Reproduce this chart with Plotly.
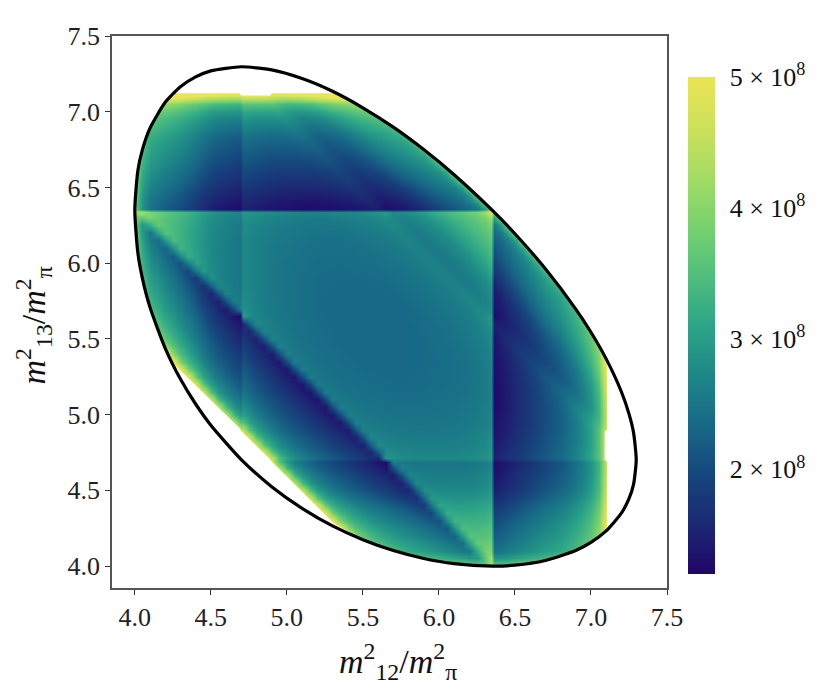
import plotly.graph_objects as go

# Grid nodes (m^2/m_pi^2), shared by both axes; paired nodes straddle the jumps at 4.7 and 6.35
nodes = [4.00,4.05,4.10,4.15,4.20,4.25,4.30,4.35,4.40,4.45,4.50,4.55,4.60,4.65,4.69,4.71,
         4.75,4.80,4.85,4.90,4.95,5.00,5.05,5.10,5.15,5.20,5.25,5.30,5.35,5.40,5.45,5.50,
         5.55,5.60,5.65,5.70,5.75,5.80,5.85,5.90,5.95,6.00,6.05,6.10,6.15,6.20,6.25,6.30,
         6.34,6.36,6.40,6.45,6.50,6.55,6.60,6.65,6.70,6.75,6.80,6.85,6.90,6.95,7.00,7.05,7.10,7.12]

# Values, in units of 1e6; the plot is symmetric about x = y.
# Each row gives x >= y only, starting at node index row_start[j].
row_start = [37,35,31,29,27,26,25,24,23,22,21,20,19,18,17,17,16] + list(range(17, 51))
row_vals = [
 [454,439,428,420,413,405,396,389,381,374,369, 420,373, 369,374,381,389,396,405,413,420,428,439,454,470,493,538,648,708],
 [395,378,364,352,344,337,329,320,312,304,295,289,359, 430,286, 289,295,304,312,320,329,337,344,352,364,378,395,418,463,573,633],
 [538,428,383,360,343,328,317,308,301,293,284,276,267,258,250,319,384, 391,246, 250,258,267,276,284,293,301,308,317,328,343,360,383,428,538,598],
 [588,528,418,373,350,333,318,306,298,290,282,273,265,256,246,238,305,369,369, 377,233, 238,246,256,265,273,282,290,298,306,318,333,350,373,418,528,588],
 [599,578,518,408,363,340,323,308,296,287,280,271,262,254,245,235,226,293,355,354,355, 364,221, 226,235,245,254,262,271,280,287,296,308,323,340,363,408,518,579],
 [591,571,510,400,355,332,315,300,288,279,271,263,253,245,236,226,217,283,345,342,342,345, 354,211, 217,226,236,245,253,263,271,279,288,300,315,332,355,400,510,571],
 [583,562,502,391,346,323,306,291,279,270,262,253,244,235,226,216,207,273,334,331,329,331,334, 344,201, 207,216,226,235,244,253,262,270,279,291,306,323,346,391,502,563],
 [573,552,491,381,335,312,295,280,268,259,251,242,232,224,214,204,195,261,322,318,316,316,318,322, 332,189, 195,204,214,224,232,242,251,259,268,280,295,312,335,381,491,553],
 [563,541,480,369,324,300,283,268,256,247,239,230,220,211,202,191,182,248,309,305,302,302,302,305,309, 319,176, 182,191,202,211,220,230,239,247,256,268,283,300,324,369,480,543],
 [552,530,468,357,311,288,270,255,243,234,226,217,207,198,188,178,168,234,295,291,288,287,287,288,291,295, 305,162, 168,178,188,198,207,217,226,234,243,255,270,288,311,357,468,532],
 [542,520,458,346,300,276,259,243,231,222,214,205,195,186,176,165,156,221,282,278,275,274,273,274,275,278,282, 292,149, 156,165,176,186,195,205,214,222,231,243,259,276,300,346,458,522],
 [537,515,453,341,294,270,252,237,224,215,207,198,188,179,169,158,148,214,274,270,267,266,265,265,266,267,270,274, 285,142, 148,158,169,179,188,198,207,215,224,237,252,270,294,341,453,517],
 [535,512,450,338,291,266,248,232,220,210,202,193,183,174,164,153,143,208,269,264,261,260,259,259,259,260,261,264,269, 279,136, 143,153,164,174,183,193,202,210,220,232,248,266,291,338,450,515],
 [534,510,447,335,288,263,244,228,215,206,197,188,178,169,159,148,138,203,263,259,255,254,253,253,253,253,254,255,259,263, 274,131, 138,148,159,169,178,188,197,206,215,228,244,263,288,335,447,508],
 [535,511,467,354,297,265,246,229,215,205,197,187,177,168,158,147,137,128,261,256,253,250,249,249,249,249,249,250,252,255,260, 271,128, 135,145,156,166,175,185,195,203,213,226,243,262,287,334,447,508],
 [555,526,452,349,307,283,265,249,236,226,218,208,198,189,179,168,158,296,284,279,277,275,274,274,274,274,274,275,277,280,285, 296,153, 160,170,181,191,200,210,220,228,238,251,268,287,312,359,472,533],
 [560,535,471,357,309,284,265,248,234,224,215,206,195,186,176,165,155,220,280,275,271,270,268,268,268,268,268,268,270,271,275,280, 291,148, 155,165,176,186,195,206,215,224,234,248,265,284,309,357,471,532],
 [470,356,307,281,262,245,231,220,211,201,191,181,171,160,150,215,275,270,266,264,263,262,262,262,262,262,263,264,266,270,275, 286,143, 150,160,171,181,191,201,211,220,231,245,262,281,307,356,470,532],
 [307,280,260,243,229,218,208,198,187,178,167,156,146,211,271,266,262,260,258,258,257,257,257,257,258,258,260,262,266,271, 282,139, 146,156,167,178,187,198,208,218,229,243,260,280,307,356,471,533],
 [259,241,227,216,206,195,184,174,164,152,142,207,267,262,258,256,254,253,253,252,252,252,253,253,254,256,258,262,267, 278,135, 142,152,164,174,184,195,206,216,227,241,259,280,307,357,459,509],
 [226,215,205,194,182,172,161,150,139,204,264,259,255,253,251,250,249,249,248,248,249,249,250,251,253,255,259,264, 275,132, 139,150,161,172,182,194,205,215,226,241,260,281,309,346,447,505],
 [205,194,182,171,160,148,138,202,262,257,253,251,249,248,247,246,246,245,246,246,247,248,249,251,253,257,262, 273,130, 138,148,160,171,182,194,205,215,227,243,262,284,299,335,450,512],
 [182,171,159,147,136,201,260,255,251,249,247,246,245,244,243,243,243,243,244,245,246,247,249,251,255,260, 271,128, 136,147,159,171,182,194,205,216,229,245,265,274,288,338,453,512],
 [159,146,135,199,259,253,249,247,245,244,243,242,241,240,241,240,241,242,243,244,245,247,249,253,259, 269,126, 135,146,159,171,182,194,206,218,231,248,255,263,291,341,458,523],
 [134,198,257,252,247,245,243,242,241,240,239,238,238,238,238,239,240,241,242,243,245,247,252,257, 268,125, 134,146,159,171,182,195,208,220,234,238,244,266,294,346,468,533],
 [257,251,247,244,242,241,240,239,238,237,237,236,237,237,238,239,240,241,242,244,247,251,257, 267,126, 135,147,160,172,184,198,211,224,225,228,248,270,300,357,480,545],
 [246,244,241,240,239,238,237,236,236,235,235,236,236,237,238,239,240,241,244,246,251,257, 268,127, 136,148,161,174,187,201,215,215,215,232,252,276,311,369,491,555],
 [242,240,239,238,237,236,236,235,235,235,236,236,237,238,239,240,242,244,247,252,259, 270,129, 138,150,164,178,191,206,207,206,220,237,259,288,324,381,502,559],
 [238,237,236,235,235,234,234,234,234,235,235,236,237,238,240,241,244,247,253,260, 271,130, 139,152,167,181,195,197,197,210,224,243,270,300,335,391,510,563],
 [236,235,235,234,234,234,234,234,235,235,236,237,239,240,242,245,249,255,262, 273,132, 142,156,171,186,187,188,202,215,231,255,283,312,346,400,518,581],
 [235,234,234,234,234,234,234,235,235,236,238,239,241,243,247,251,257,264, 275,134, 146,160,176,178,178,193,207,222,243,268,295,323,355,408,528],
 [234,234,234,234,234,234,235,235,237,238,240,242,245,249,253,259,267, 278,136, 150,165,168,169,183,198,214,234,256,280,306,332,363,418],
 [234,234,234,234,234,235,236,237,239,241,244,247,251,255,262,271, 282,143, 155,157,159,174,188,205,226,247,268,291,315,340,373,428],
 [234,234,234,234,236,236,238,240,243,246,249,253,258,266,275, 290,147, 147,148,164,179,195,217,239,259,279,300,323,350,383],
 [234,234,235,236,237,239,242,245,248,251,256,262,270,280, 296,128, 138,153,169,186,207,230,251,270,288,308,333,360,418],
 [235,235,237,238,241,244,247,250,254,260,266,275,272, 274,133, 143,158,176,198,220,242,262,279,296,318,343,395],
 [236,238,240,243,246,249,253,258,264,271,267,263, 279,137, 148,165,188,211,232,253,271,287,306,328,378],
 [241,243,246,249,253,258,263,270,264,259,269, 284,144, 156,178,202,224,244,263,280,298,317,364],
 [245,248,252,257,262,268,262,255,264,274, 291,151, 168,191,214,235,253,271,290,308,352,439],
 [252,257,262,268,261,254,261,270,282, 303,165, 182,204,226,245,262,282,301,344,428],
 [262,268,261,253,260,267,278,295, 317,178, 195,216,236,254,273,293,337,420],
 [261,253,259,266,275,291,309, 330,191, 207,226,245,265,284,329,413,421],
 [259,265,274,288,305,322, 342,203, 217,235,256,276,320,405,414],
 [273,287,302,318,334, 352,213, 226,246,267,312,396,406],
 [302,316,331,345, 362,223, 238,258,304,389,398],
 [329,342,355, 374,235, 250,295,381,391],
 [354,369, 388,249, 289,374,385],
 [384, 420,302, 369,379],
 [486,373,380],
 [230,240],
 [245],
]

# Kinematic boundary
bound_x = [4.0,4.02,4.05,4.1,4.2,4.3,4.4,4.5,4.7,4.9,5.1,5.3,5.5,5.7,5.9,6.1,6.35,6.5,6.7,6.9,7.0,7.1,7.2,7.25,7.28,7.2975,
           7.28,7.25,7.2,7.1,7.0,6.9,6.7,6.5,6.35,6.1,5.9,5.7,5.5,5.3,5.1,4.9,4.7,4.5,4.4,4.3,4.2,4.1,4.05,4.02,4.0]
bound_y = [6.35,6.611,6.75,6.892,7.062,7.165,7.23,7.27,7.297,7.276,7.219,7.135,7.026,6.898,6.75,6.584,6.35,6.194,5.963,5.697,5.544,5.368,5.151,5.005,4.881,4.70,
           4.539,4.445,4.349,4.232,4.156,4.103,4.037,4.006,4.0,4.016,4.05,4.102,4.174,4.265,4.381,4.524,4.703,4.93,5.07,5.235,5.438,5.708,5.9,6.069,6.35]

# Outline of the filled region
edge_x = [4.0,4.02,4.05,4.1,4.2,4.26,4.26,4.69,4.7,4.89,4.9,5.33,5.5,5.7,5.9,6.1,6.35,6.5,6.7,6.9,7.0,7.1,7.105,
          7.105,7.09,7.09,7.105,7.105,7.0,6.9,6.7,6.5,6.35,6.1,5.9,5.7,5.5,5.31,4.895,4.89,4.7,4.69,4.26,4.2,4.1,4.05,4.02,4.0]
edge_y = [6.35,6.611,6.75,6.892,7.062,7.105,7.122,7.122,7.107,7.107,7.122,7.122,7.026,6.898,6.75,6.584,6.35,6.194,5.963,5.697,5.544,5.368,5.36,
          4.9,4.89,4.7,4.69,4.235,4.156,4.103,4.037,4.006,4.0,4.016,4.05,4.102,4.174,4.28,4.695,4.705,4.89,4.91,5.33,5.438,5.708,5.9,6.069,6.35]

tick_vals = [4.0,4.5,5.0,5.5,6.0,6.5,7.0,7.5]
cbar_vals = [200,300,400,500]
cbar_text = ["2 × 10<sup>8</sup>","3 × 10<sup>8</sup>","4 × 10<sup>8</sup>","5 × 10<sup>8</sup>"]
color_stops = ["#21056a","#1c2873","#16467d","#176987","#1e8787","#2da587","#50be7d","#78d26e","#a5dc64","#cde15a","#ebe455"]

FONT = "Liberation Serif"
XMIN, YMIN, XMAX, YMAX = 3.85, 3.855, 7.5, 7.5

n = len(nodes)
z = [[None]*n for _ in range(n)]
for j, (start, vals) in enumerate(zip(row_start, row_vals)):
    for k, v in enumerate(vals):
        z[j][start+k] = v
        z[start+k][j] = v

fig = go.Figure()
fig.add_trace(go.Heatmap(
    x=nodes, y=nodes, z=z, zmin=120, zmax=500, zsmooth="best", hoverinfo="skip",
    colorscale=[[i/(len(color_stops)-1), c] for i, c in enumerate(color_stops)],
    colorbar=dict(thickness=27, thicknessmode="pixels", len=0.9004, lenmode="fraction",
                  y=0.0254, yanchor="bottom", x=1.038, xanchor="left", xpad=0, ypad=0,
                  outlinewidth=0, tickmode="array", tickvals=cbar_vals, ticktext=cbar_text,
                  ticks="outside", ticklen=10, tickcolor="rgba(0,0,0,0)",
                  tickfont=dict(family=FONT, size=26, color="#111")),
))
# White mask outside the filled outline
fig.add_trace(go.Scatter(
    x=[XMIN,XMIN,XMAX,XMAX,XMIN,None]+edge_x[::-1],
    y=[YMIN,YMAX,YMAX,YMIN,YMIN,None]+edge_y[::-1],
    mode="lines", line=dict(width=0), fill="toself", fillcolor="white",
    hoverinfo="skip", showlegend=False))
fig.add_trace(go.Scatter(
    x=bound_x, y=bound_y, mode="lines", line=dict(color="black", width=3.2, shape="spline", smoothing=0.6),
    hoverinfo="skip", showlegend=False))

axis = dict(tickvals=tick_vals, tickformat=".1f", ticks="outside", ticklen=5, tickwidth=1.2, tickcolor="#333",
            showline=True, linecolor="#555", linewidth=1.5, mirror=True, showgrid=False, zeroline=False,
            tickfont=dict(family=FONT, size=26, color="#222"))
fig.update_xaxes(range=[XMIN, XMAX], **axis)
fig.update_yaxes(range=[YMIN, YMAX], **axis)
TITLE_X = "<i>m</i><sup>2</sup><sub>12</sub>/<i>m</i><sup>2</sup><sub>π</sub>"
TITLE_Y = "<i>m</i><sup>2</sup><sub>13</sub>/<i>m</i><sup>2</sup><sub>π</sub>"
fig.update_layout(
    width=822, height=690, margin=dict(l=104, r=163, t=28, b=110),
    paper_bgcolor="white", plot_bgcolor="white", showlegend=False,
    annotations=[
        dict(text=TITLE_X, xref="paper", yref="paper", x=0.515, y=-0.134, xanchor="center", yanchor="middle",
             showarrow=False, font=dict(family=FONT, size=34, color="#111")),
        dict(text=TITLE_Y, xref="paper", yref="paper", x=-0.142, y=0.476, xanchor="center", yanchor="middle",
             textangle=-90, showarrow=False, font=dict(family=FONT, size=34, color="#111")),
    ],
)
fig.write_html("out.html")
